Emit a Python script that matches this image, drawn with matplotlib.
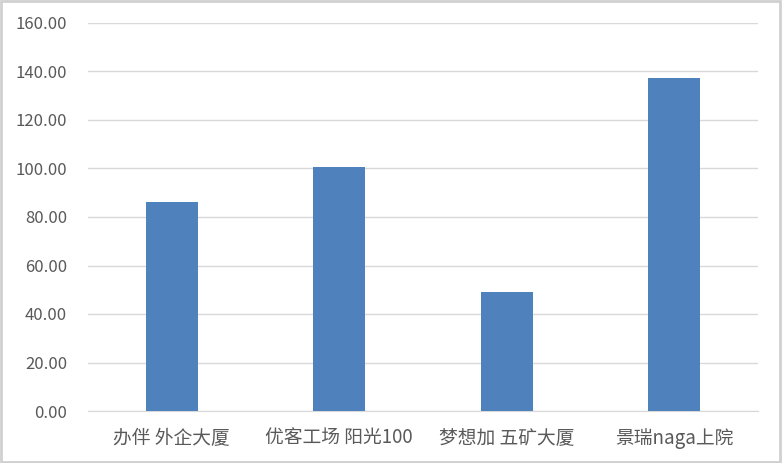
import matplotlib.pyplot as plt
from matplotlib.patches import Rectangle

plt.rcParams['font.family'] = ['Noto Sans CJK SC', 'DejaVu Sans']

categories = ['办伴 外企大厦', '优客工场 阳光100', '梦想加 五矿大厦', '景瑞naga上院']
values = [86.3, 100.7, 49.1, 137.4]
yticks = [0, 20, 40, 60, 80, 100, 120, 140, 160]

fig = plt.figure(figsize=(7.82, 4.63), dpi=100)
ax = fig.add_axes([88 / 782, 52 / 463, 670 / 782, 388 / 463])

x = range(len(categories))
ax.bar(x, values, width=0.31, color='#4f81bd', zorder=3)

ax.set_xlim(-0.5, len(categories) - 0.5)
ax.set_ylim(0, 160)
ax.set_yticks(yticks)
ax.set_yticklabels([f'{v:.2f}' for v in yticks])
ax.set_xticks(list(x))
ax.set_xticklabels(categories)

ax.grid(axis='y', color='#d9d9d9', linewidth=1, zorder=0)
for s in ['top', 'right', 'left']:
    ax.spines[s].set_visible(False)
ax.spines['bottom'].set_color('#d9d9d9')
ax.tick_params(axis='both', length=0, colors='#595959')
ax.tick_params(axis='y', pad=15, labelsize=12)
ax.tick_params(axis='x', pad=12, labelsize=13.5)

# outer frame
fig.patches.append(Rectangle((0.001, 0.002), 0.997, 0.995, transform=fig.transFigure,
                             fill=False, edgecolor='#d0d0d0', linewidth=2))

fig.savefig('out.png', dpi=100)
